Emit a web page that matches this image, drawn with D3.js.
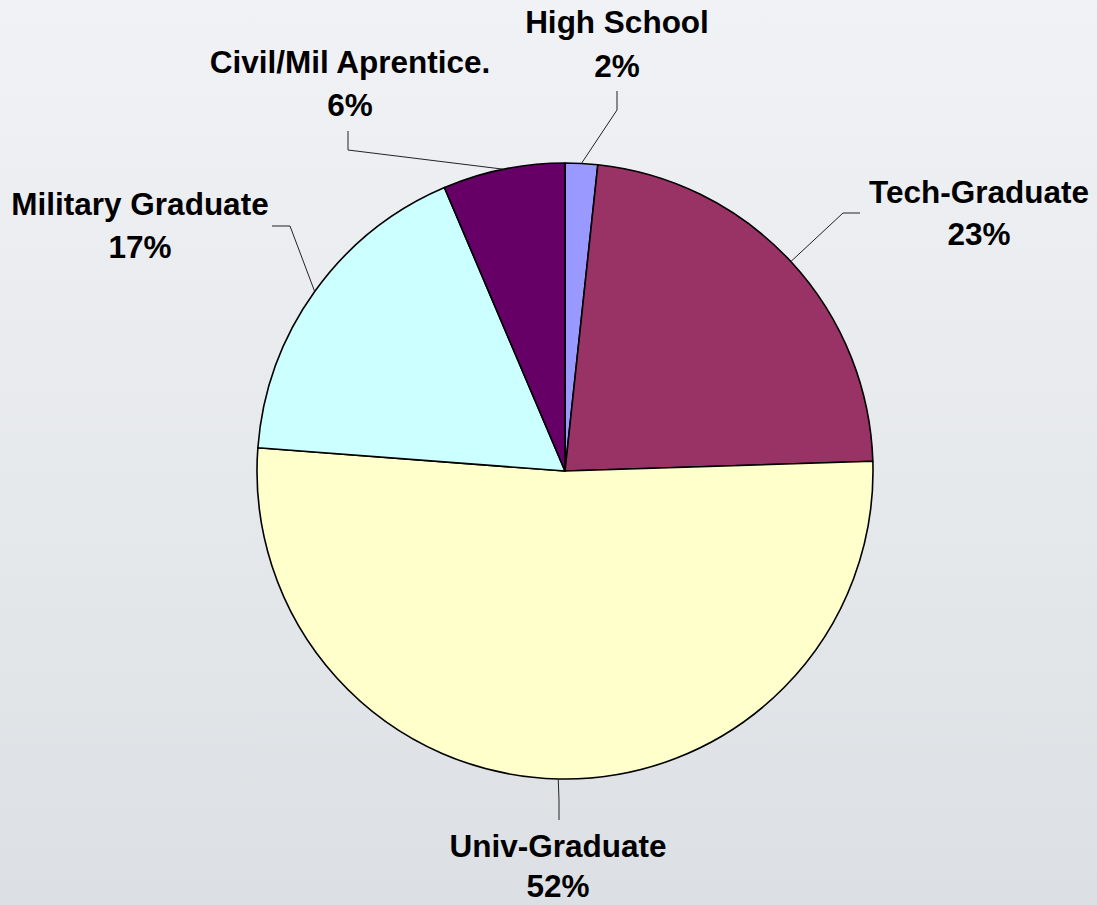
<!DOCTYPE html>
<html>
<head>
<meta charset="utf-8">
<script src="https://cdn.jsdelivr.net/npm/d3@7"></script>
<style>
  html, body { margin: 0; padding: 0; overflow: hidden; }
  svg { display: block; }
</style>
</head>
<body>
<div id="chart"></div>
<script>
// ---- data ----
const categories = ["High School", "Tech-Graduate", "Univ-Graduate", "Military Graduate", "Civil/Mil Aprentice."];
const values = [1.7, 22.8, 51.7, 17.4, 6.4];
const colors = ["#9999FF", "#993366", "#FFFFCC", "#CCFFFF", "#660066"];

// ---- layout (label placement: elbow, line end, text anchor, line gap) ----
const labelLayout = [
  { elbow: [617, 110], end: [617, 91], text: [617, 33], gap: 44 },
  { elbow: [843, 213], end: [860, 213], text: [979, 203], gap: 42 },
  { elbow: [559, 800], end: [559, 820], text: [558, 857], gap: 40 },
  { elbow: [290, 226], end: [272, 226], text: [140, 215], gap: 43 },
  { elbow: [348, 150], end: [348, 131], text: [350, 73], gap: 43 }
];

const W = 1097, H = 905;
const cx = 565, cy = 471, R = 308;

const svg = d3.select("#chart").append("svg")
  .attr("width", W).attr("height", H);

const defs = svg.append("defs");
const grad = defs.append("linearGradient").attr("id", "bg")
  .attr("x1", 0).attr("y1", 0).attr("x2", 0).attr("y2", 1);
grad.append("stop").attr("offset", "0%").attr("stop-color", "#f0f2f5");
grad.append("stop").attr("offset", "55%").attr("stop-color", "#e6e9ec");
grad.append("stop").attr("offset", "100%").attr("stop-color", "#dcdfe3");
svg.append("rect").attr("width", W).attr("height", H).attr("fill", "url(#bg)");

const data = categories.map((c, i) => ({ name: c, value: values[i], color: colors[i], layout: labelLayout[i] }));

const pie = d3.pie().value(d => d.value).sort(null);
const arcs = pie(data);
const arc = d3.arc().innerRadius(0).outerRadius(R);

const g = svg.append("g").attr("transform", `translate(${cx},${cy})`);
g.selectAll("path.slice").data(arcs).join("path")
  .attr("class", "slice")
  .attr("d", arc)
  .attr("fill", d => d.data.color)
  .attr("stroke", "#000")
  .attr("stroke-width", 1.6)
  .attr("stroke-linejoin", "round");

// leader lines
const total = d3.sum(values);
svg.selectAll("polyline.leader").data(arcs).join("polyline")
  .attr("class", "leader")
  .attr("points", d => {
    const a = (d.startAngle + d.endAngle) / 2;
    const sx = cx + R * Math.sin(a), sy = cy - R * Math.cos(a);
    const L = d.data.layout;
    return [[sx, sy], L.elbow, L.end].map(p => p.join(",")).join(" ");
  })
  .attr("fill", "none")
  .attr("stroke", "#222")
  .attr("stroke-width", 1);

// labels
const labels = svg.selectAll("text.lbl").data(arcs).join("text")
  .attr("class", "lbl")
  .attr("text-anchor", "middle")
  .attr("font-family", "'Liberation Sans', Arial, sans-serif")
  .attr("font-weight", "bold")
  .attr("font-size", 31.5)
  .attr("fill", "#000");
labels.append("tspan")
  .attr("x", d => d.data.layout.text[0])
  .attr("y", d => d.data.layout.text[1])
  .text(d => d.data.name);
labels.append("tspan")
  .attr("x", d => d.data.layout.text[0])
  .attr("y", d => d.data.layout.text[1] + d.data.layout.gap)
  .text(d => Math.round(d.data.value / total * 100) + "%");
</script>
</body>
</html>
